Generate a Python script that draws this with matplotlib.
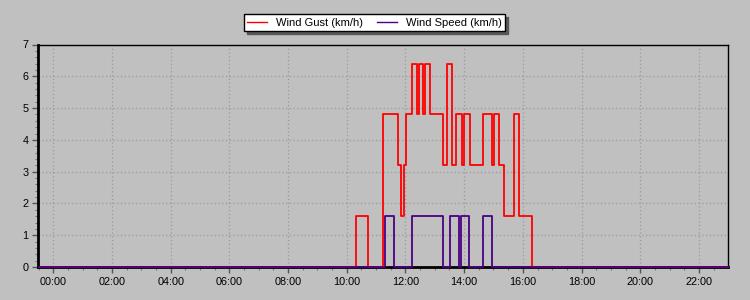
import matplotlib
matplotlib.use("Agg")
import matplotlib.pyplot as plt
from matplotlib.ticker import MultipleLocator, FuncFormatter

# Step data (decimal hours, value from that time on)
gust_hours = [-0.5, 10.33, 10.71, 11.25, 11.73, 11.85, 11.96, 12.03, 12.21, 12.39,
              12.47, 12.61, 12.67, 12.84, 13.27, 13.42, 13.59, 13.73, 13.91, 13.98,
              14.19, 14.63, 14.95, 15.03, 15.18, 15.36, 15.71, 15.87, 16.32, 23.0]
gust_vals = [0, 1.6, 0, 4.8, 3.2, 1.6, 3.2, 4.8, 6.4, 4.8,
             6.4, 4.8, 6.4, 4.8, 3.2, 6.4, 3.2, 4.8, 3.2, 4.8,
             3.2, 4.8, 3.2, 4.8, 3.2, 1.6, 4.8, 1.6, 0, 0]

speed_hours = [-0.5, 11.31, 11.62, 12.23, 13.28, 13.53, 13.82, 13.89, 14.16, 14.65, 14.96, 23.0]
speed_vals = [0, 1.6, 0, 1.6, 0, 1.6, 0, 1.6, 0, 1.6, 0, 0]

series_labels = ["Wind Gust (km/h)", "Wind Speed (km/h)"]
series_colors = ["#FF0000", "#4B0082"]

plt.rcParams['font.family'] = ['Liberation Sans', 'DejaVu Sans']

bg = "#C0C0C0"
fig = plt.figure(figsize=(7.5, 3.0), dpi=100, facecolor=bg)
ax = fig.add_axes([38/750, 1-267/300, (728-38)/750, (267-44.5)/300])
ax.set_facecolor(bg)

l1, = ax.plot(gust_hours, gust_vals, drawstyle='steps-post', color=series_colors[0],
              lw=1.3, clip_on=False, zorder=3, label=series_labels[0])
l2, = ax.plot(speed_hours, speed_vals, drawstyle='steps-post', color=series_colors[1],
              lw=1.3, clip_on=False, zorder=4, label=series_labels[1])

ax.set_xlim(-0.52, 22.99)
ax.set_ylim(0, 7)

ax.xaxis.set_major_locator(MultipleLocator(2))
ax.xaxis.set_minor_locator(MultipleLocator(0.5))
ax.xaxis.set_major_formatter(FuncFormatter(lambda v, p: "%02d:00" % int(round(v))))
ax.yaxis.set_major_locator(MultipleLocator(1))
ax.yaxis.set_minor_locator(MultipleLocator(0.2))

ax.grid(True, which='major', color='#999999', linestyle=(0, (1, 2)), linewidth=0.9)
ax.set_axisbelow(True)

ax.tick_params(axis='both', which='major', direction='out', length=4, width=1,
               color='#555555', labelsize=7.8, labelcolor='black')
ax.tick_params(axis='x', which='major', pad=3)
ax.tick_params(axis='y', which='major', pad=3)
ax.tick_params(axis='both', which='minor', direction='out', length=2.5, width=0.8,
               color='#777777')

for side in ['top', 'right']:
    ax.spines[side].set_color('black')
    ax.spines[side].set_linewidth(1.0)
ax.spines['left'].set_linewidth(2.0)
ax.spines['bottom'].set_linewidth(2.0)
ax.spines['left'].set_color('black')
ax.spines['bottom'].set_color('black')

leg = fig.legend(handles=[l1, l2], loc='center', bbox_to_anchor=(0.4993, 1-22.5/300),
                 ncol=2, frameon=True, fancybox=False, framealpha=1,
                 edgecolor='black', facecolor='white', fontsize=8,
                 handlelength=1.8, handletextpad=0.8, columnspacing=1.2,
                 borderpad=0.3, borderaxespad=0,
                 shadow={'ox': 2, 'oy': -2, 'color': '#505050', 'alpha': 0.9})
leg.get_frame().set_linewidth(1.0)
for h in leg.legend_handles:
    h.set_linewidth(1.0)

fig.savefig("out.png", dpi=100, facecolor=bg)
